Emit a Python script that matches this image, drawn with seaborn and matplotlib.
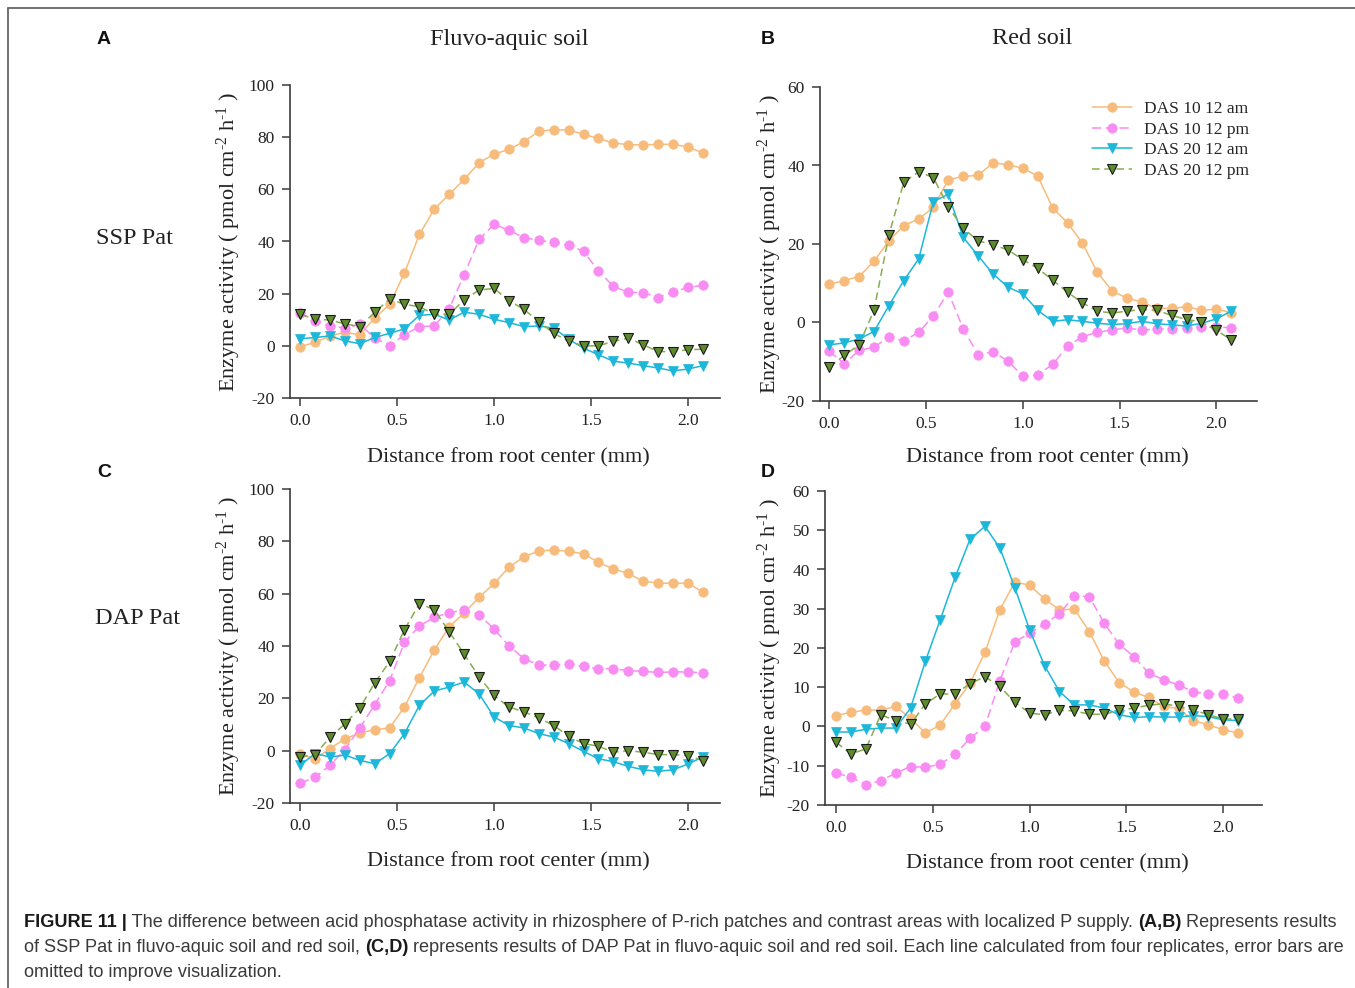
import numpy as np
import pandas as pd
import matplotlib
matplotlib.use("Agg")
import matplotlib.pyplot as plt
from matplotlib.lines import Line2D
import seaborn as sns

# ---------------- data ----------------
distance = [0.000, 0.077, 0.154, 0.231, 0.308, 0.385, 0.462, 0.538, 0.615, 0.692,
            0.769, 0.846, 0.923, 1.000, 1.077, 1.154, 1.231, 1.308, 1.385, 1.462,
            1.538, 1.615, 1.692, 1.769, 1.846, 1.923, 2.000, 2.077]

series_names = ["DAS 10 12 am", "DAS 10 12 pm", "DAS 20 12 am", "DAS 20 12 pm"]

# Panel A: SSP Pat, Fluvo-aquic soil
A_das10_am = [-0.3, 1.3, 3.8, 5.2, 4.2, 10.8, 15.9, 27.9, 42.7, 52.4, 58.1, 63.8, 70.2, 73.5,
              75.3, 78.3, 82.2, 82.9, 82.7, 81.1, 79.5, 77.8, 77.1, 77.1, 77.2, 77.3, 76.2, 74.0]
A_das10_pm = [12.5, 9.7, 7.6, 6.8, 8.3, 2.9, 0.1, 4.2, 7.4, 7.6, 14.3, 27.3, 40.8, 46.6,
              44.3, 41.5, 40.4, 39.7, 38.6, 36.2, 28.7, 22.8, 20.5, 20.4, 18.5, 20.6, 22.4, 23.2]
A_das20_am = [2.7, 3.2, 3.8, 1.9, 0.8, 3.2, 4.8, 6.5, 11.7, 12.1, 9.9, 12.9, 12.1, 10.2,
              8.9, 7.4, 7.6, 6.8, 2.5, -0.9, -3.4, -5.9, -6.6, -7.6, -8.5, -9.6, -8.9, -7.6]
A_das20_pm = [12.1, 10.2, 9.9, 8.4, 7.4, 12.9, 18.0, 15.9, 15.0, 12.1, 12.1, 17.6, 21.4, 22.0,
              17.3, 14.0, 9.3, 4.8, 1.7, 0.0, 0.0, 1.7, 2.9, 0.4, -2.2, -2.2, -1.5, -1.3]

# Panel B: SSP Pat, Red soil
B_das10_am = [9.7, 10.7, 11.7, 15.6, 20.8, 24.7, 26.4, 29.3, 36.4, 37.2, 37.5, 40.7, 40.2, 39.3,
              37.3, 29.2, 25.4, 20.2, 12.8, 8.0, 6.2, 5.2, 3.6, 3.6, 4.0, 3.1, 3.4, 2.5]
B_das10_pm = [-7.3, -10.5, -7.1, -6.3, -3.7, -4.7, -2.5, 1.7, 7.7, -1.6, -8.2, -7.5, -9.8, -13.7,
              -13.3, -10.7, -6.0, -3.6, -2.5, -1.9, -1.4, -1.9, -1.7, -1.6, -1.4, -1.2, -1.2, -1.3]
B_das20_am = [-5.7, -5.2, -4.2, -2.3, 4.3, 10.7, 16.2, 30.8, 32.7, 21.7, 17.0, 12.4, 9.0, 7.3,
              3.1, 0.3, 0.7, 0.3, -0.2, -0.5, -0.3, 0.3, -0.3, -0.6, -0.9, -0.2, 0.9, 2.9]
B_das20_pm = [-11.4, -8.4, -5.7, 3.1, 22.3, 35.7, 38.4, 36.9, 29.5, 24.0, 20.8, 19.8, 18.5, 16.0,
              13.8, 10.8, 7.7, 5.0, 2.9, 2.4, 2.9, 3.3, 3.1, 1.8, 0.8, 0.1, -2.0, -4.4]

# Panel C: DAP Pat, Fluvo-aquic soil
C_das10_am = [-1.3, -3.2, 0.8, 4.5, 6.8, 8.0, 8.7, 16.7, 27.9, 38.5, 47.4, 52.6, 58.6, 63.9,
              70.1, 74.1, 76.3, 76.7, 76.2, 75.2, 72.0, 69.4, 67.8, 64.7, 64.1, 63.9, 64.1, 60.5]
C_das10_pm = [-12.4, -10.2, -5.6, 0.4, 8.7, 17.6, 26.8, 41.4, 47.6, 51.0, 52.7, 53.7, 52.0, 46.5,
              40.1, 35.2, 32.7, 32.7, 33.2, 32.2, 31.3, 31.3, 30.6, 30.3, 29.9, 30.1, 30.1, 29.7]
C_das20_am = [-5.6, -1.1, -2.4, -1.7, -3.7, -5.0, -1.1, 6.5, 17.3, 22.8, 24.3, 26.2, 21.7, 12.9,
              9.6, 8.7, 6.5, 5.2, 2.7, -0.3, -3.1, -4.2, -6.0, -7.3, -7.9, -7.3, -5.1, -2.4]
C_das20_pm = [-2.4, -1.5, 5.1, 10.2, 16.3, 25.9, 34.1, 46.2, 56.2, 53.9, 45.4, 36.9, 28.2, 21.1,
              16.7, 14.8, 12.5, 9.6, 5.5, 2.7, 1.7, -0.6, 0.0, -0.6, -1.5, -1.5, -1.9, -3.8]

# Panel D: DAP Pat, Red soil
D_das10_am = [2.8, 3.6, 4.2, 4.2, 5.1, 2.1, -1.7, 0.4, 5.8, 11.0, 18.9, 29.7, 36.8, 36.0,
              32.5, 29.7, 29.9, 24.2, 16.7, 11.2, 8.8, 7.4, 5.1, 4.6, 1.5, 0.4, -0.8, -1.7]
D_das10_pm = [-11.9, -12.9, -14.9, -13.8, -11.9, -10.2, -10.4, -9.6, -7.1, -3.0, 0.0, 11.7, 21.5, 23.8,
              26.1, 28.7, 33.3, 33.1, 26.3, 21.0, 17.8, 13.6, 11.9, 10.6, 8.8, 8.3, 8.3, 7.2]
D_das20_am = [-1.4, -1.4, -0.7, -0.4, -0.4, 4.7, 16.7, 27.2, 38.0, 47.7, 51.0, 45.5, 35.4, 24.6,
              15.5, 8.9, 5.5, 5.5, 4.7, 3.0, 2.3, 2.5, 2.4, 2.4, 2.8, 2.5, 1.7, 1.5]
D_das20_pm = [-4.0, -7.0, -5.7, 3.0, 1.5, 0.6, 5.8, 8.3, 8.3, 10.9, 12.7, 10.2, 6.2, 3.4,
              3.0, 4.1, 4.0, 3.1, 3.1, 4.1, 4.7, 5.4, 5.8, 5.1, 4.2, 3.0, 1.9, 1.9]

x_ticks = [0.0, 0.5, 1.0, 1.5, 2.0]
x_tick_labels = ["0.0", "0.5", "1.0", "1.5", "2.0"]
y_ticks_fluvo = [-20, 0, 20, 40, 60, 80, 100]
y_ticks_red_A = [-20, 0, 20, 40, 60]
y_ticks_red_D = [-20, -10, 0, 10, 20, 30, 40, 50, 60]

# ---------------- style ----------------
sns.set_theme(style="ticks")
plt.rcParams["font.family"] = ["Liberation Serif", "DejaVu Serif"]
plt.rcParams["mathtext.fontset"] = "custom"
plt.rcParams["mathtext.rm"] = "Liberation Serif"
plt.rcParams["mathtext.it"] = "Liberation Serif:italic"
plt.rcParams["axes.unicode_minus"] = False

W, H = 1355, 988
fig = plt.figure(figsize=(W / 100, H / 100), dpi=100)
fig.patch.set_facecolor("white")

styles = [
    dict(color="#F7BC7C", marker="o", linestyle="-", mfc="#F7BC7C", mec="#F7BC7C", ms=6.8, mew=0.5),
    dict(color="#F98CF3", marker="o", linestyle=(0, (6, 3)), mfc="#F98CF3", mec="#F98CF3", ms=6.8, mew=0.5),
    dict(color="#1DB7D9", marker="v", linestyle="-", mfc="#1DB7D9", mec="#1DB7D9", ms=7.0, mew=0.5),
    dict(color="#86AE4E", marker="v", linestyle=(0, (5, 3)), mfc="#5E8A2E", mec="#1a1a1a", ms=7.0, mew=0.8),
]

def px_axes(left, right, top, bottom):
    return fig.add_axes([left / W, 1 - bottom / H, (right - left) / W, (bottom - top) / H])

panels = [
    dict(rect=(290, 720, 85, 398), data=[A_das10_am, A_das10_pm, A_das20_am, A_das20_pm],
         ylim=(-20, 100), yticks=y_ticks_fluvo, xlim=(-0.052, 2.165), ylab_x=-0.142, xlab=(0.509, -0.19)),
    dict(rect=(820, 1257, 87, 401), data=[B_das10_am, B_das10_pm, B_das20_am, B_das20_pm],
         ylim=(-20, 60), yticks=y_ticks_red_A, xlim=(-0.048, 2.21), ylab_x=-0.114, xlab=(0.52, -0.182)),
    dict(rect=(290, 720, 489, 803), data=[C_das10_am, C_das10_pm, C_das20_am, C_das20_pm],
         ylim=(-20, 100), yticks=y_ticks_fluvo, xlim=(-0.052, 2.165), ylab_x=-0.142, xlab=(0.509, -0.187)),
    dict(rect=(825, 1262, 491, 805), data=[D_das10_am, D_das10_pm, D_das20_am, D_das20_pm],
         ylim=(-20, 60), yticks=y_ticks_red_D, xlim=(-0.057, 2.20), ylab_x=-0.126, xlab=(0.51, -0.187)),
]

ylabel = r"Enzyme activity ( pmol cm$^{\text{-2}}$ h$^{\text{-1}}$ )"
spine_col = "#3c3c3c"

axes = []
for i, p in enumerate(panels):
    ax = px_axes(*p["rect"])
    axes.append(ax)
    for name, vals, st in zip(series_names, p["data"], styles):
        df = pd.DataFrame({"x": distance, "y": vals})
        sns.lineplot(data=df, x="x", y="y", ax=ax, sort=False, errorbar=None,
                     color=st["color"], marker=st["marker"], linestyle=st["linestyle"],
                     markerfacecolor=st["mfc"], markeredgecolor=st["mec"],
                     markersize=st["ms"], markeredgewidth=st["mew"], linewidth=1.1,
                     legend=False)
    ax.set_xlim(*p["xlim"])
    ax.set_ylim(*p["ylim"])
    ax.set_xticks(x_ticks)
    ax.set_xticklabels(x_tick_labels)
    ax.set_yticks(p["yticks"])
    ax.set_yticklabels([str(v) for v in p["yticks"]])
    sns.despine(ax=ax)
    for s in ["left", "bottom"]:
        ax.spines[s].set_color(spine_col)
        ax.spines[s].set_linewidth(1.2)
    ax.tick_params(axis="both", direction="out", length=6, width=1.1, color=spine_col,
                   labelsize=12.5, labelcolor="#222222", pad=5)
    ax.tick_params(axis="x", pad=5)
    ax.set_facecolor("white")
    ax.grid(False)
    ax.set_xlabel("Distance from root center (mm)", fontsize=16, color="#222222")
    ax.xaxis.set_label_coords(*p["xlab"])
    ax.xaxis.label.set_va("center")
    ax.set_ylabel(ylabel, fontsize=16, color="#222222")
    ax.yaxis.set_label_coords(p["ylab_x"], 0.5)
    ax.yaxis.label.set_va("center")

# legend in panel B
handles = [Line2D([], [], color=st["color"], marker=st["marker"], linestyle=st["linestyle"],
                  markerfacecolor=st["mfc"], markeredgecolor=st["mec"], markersize=st["ms"],
                  markeredgewidth=st["mew"], linewidth=1.1) for st in styles]
axes[1].legend(handles, series_names, loc="upper left", bbox_to_anchor=((1092 - 820) / 437, (401 - 101) / 314),
               frameon=False, fontsize=12.5, handlelength=2.3, handletextpad=0.7,
               labelspacing=0.25, borderaxespad=0, borderpad=0)

# titles, row labels, panel letters
def ftext(xp, yp, s, **kw):
    return fig.text(xp / W, 1 - yp / H, s, **kw)

ftext(509, 39, "Fluvo-aquic soil", ha="center", va="center", fontsize=17.5, color="#222222")
ftext(1032, 39, "Red soil", ha="center", va="center", fontsize=17.5, color="#222222")
ftext(96, 238, "SSP Pat", ha="left", va="center", fontsize=17.5, color="#222222")
ftext(95, 619, "DAP Pat", ha="left", va="center", fontsize=17.5, color="#222222")
for lt, (xp, yp) in zip(["A", "B", "C", "D"], [(104, 40), (768, 40), (104, 472), (768, 472)]):
    ftext(xp, yp, lt, ha="center", va="center", fontsize=14, fontweight="bold",
          family=["Liberation Sans", "DejaVu Sans"], color="#111111")

# border lines
fig.add_artist(Line2D([8 / W, 8 / W], [1 - 8 / H, 0], transform=fig.transFigure, color="#666666", lw=1.3))
fig.add_artist(Line2D([8 / W, 1], [1 - 8 / H, 1 - 8 / H], transform=fig.transFigure, color="#666666", lw=1.3))

# caption
cap_ax = fig.add_axes([0, 0, 1, 1], facecolor="none")
cap_ax.set_axis_off()
cap_size = 13.03
cap_lines = [
    (927, [("FIGURE 11 |", True),
           (" The difference between acid phosphatase activity in rhizosphere of P-rich patches and contrast areas with localized P supply. ", False),
           ("(A,B)", True), (" Represents results", False)]),
    (952, [("of SSP Pat in fluvo-aquic soil and red soil, ", False), ("(C,D)", True),
           (" represents results of DAP Pat in fluvo-aquic soil and red soil. Each line calculated from four replicates, error bars are", False)]),
    (977, [("omitted to improve visualization.", False)]),
]
for yp, segs in cap_lines:
    prev = None
    for s, bold in segs:
        kw = dict(fontsize=cap_size, family=["Liberation Sans", "DejaVu Sans"],
                  fontweight="bold" if bold else "normal",
                  color="#1a1a1a" if bold else "#3a3a3a", ha="left", va="baseline")
        if prev is None:
            prev = cap_ax.text(24 / W, 1 - yp / H, s, transform=fig.transFigure, **kw)
        else:
            prev = cap_ax.annotate(s, xy=(1, 0), xycoords=prev, va="bottom", ha="left",
                                   **{k: v for k, v in kw.items() if k not in ("ha", "va")})

fig.savefig("out.png", dpi=100, facecolor="white")
